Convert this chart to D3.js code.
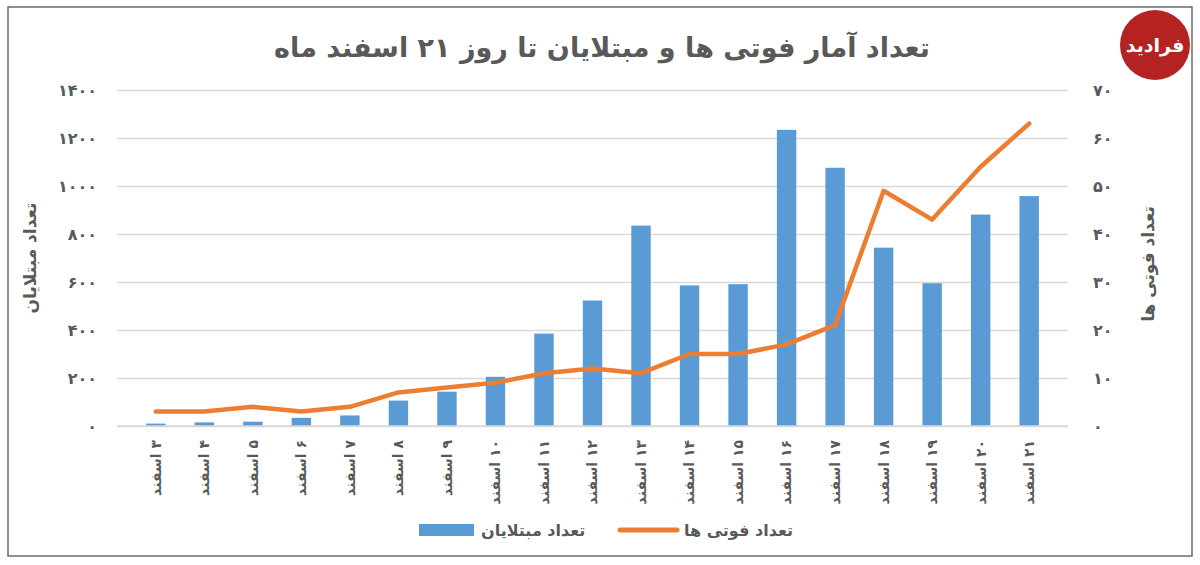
<!DOCTYPE html>
<html>
<head>
<meta charset="utf-8">
<script src="https://cdn.jsdelivr.net/npm/d3@7"></script>
<style>
  html, body { margin: 0; padding: 0; background: #fff; }
  svg { display: block; font-family: "DejaVu Sans", sans-serif; }
</style>
</head>
<body>
<div id="chart"></div>
<script>
// daily cases (bars, left axis) and deaths (line, right axis), 3..21 Esfand
const days = d3.range(3, 22);
const cases = [10, 15, 18, 34, 44, 106, 143, 205, 385, 523, 835, 586, 591, 1234, 1076, 743, 595, 881, 958];
const deaths = [3, 3, 4, 3, 4, 7, 8, 9, 11, 12, 11, 15, 15, 17, 21, 49, 43, 54, 63];
const leftTicks = [0, 200, 400, 600, 800, 1000, 1200, 1400];
const rightTicks = [0, 10, 20, 30, 40, 50, 60, 70];

const title = "تعداد آمار فوتی ها و مبتلایان تا روز ۲۱ اسفند ماه";
const casesLabel = "تعداد مبتلایان";
const deathsLabel = "تعداد فوتی ها";

const fa = n => String(n).replace(/\d/g, d => "۰۱۲۳۴۵۶۷۸۹"[d]);

const width = 1200, height = 565;
const margin = { top: 90, right: 132, bottom: 139, left: 117 };
const grey = "#595959", gridGrey = "#d9d9d9";
const blue = "#5b9bd5", orange = "#ed7d31";

const svg = d3.select("#chart").append("svg")
  .attr("width", width).attr("height", height)
  .attr("viewBox", `0 0 ${width} ${height}`);

// frame
svg.append("rect")
  .attr("x", 8).attr("y", 7).attr("width", 1184).attr("height", 549)
  .attr("fill", "none").attr("stroke", "#6b6b6b").attr("stroke-width", 1.5);

const x = d3.scaleBand().domain(days).range([margin.left, width - margin.right]).padding(0.6);
const yL = d3.scaleLinear().domain([0, 1400]).range([height - margin.bottom, margin.top]);
const yR = d3.scaleLinear().domain([0, 70]).range([height - margin.bottom, margin.top]);

// gridlines
svg.append("g")
  .attr("transform", `translate(${margin.left},0)`)
  .call(d3.axisLeft(yL).tickValues(leftTicks).tickSize(-(width - margin.left - margin.right)).tickFormat(""))
  .call(g => g.select(".domain").remove())
  .call(g => g.selectAll(".tick line").attr("stroke", gridGrey).attr("stroke-width", 1.5));

// bars
svg.append("g").selectAll("rect")
  .data(days)
  .join("rect")
    .attr("x", d => x(d))
    .attr("width", x.bandwidth())
    .attr("y", (d, i) => yL(cases[i]))
    .attr("height", (d, i) => yL(0) - yL(cases[i]))
    .attr("fill", blue);

// deaths line
const line = d3.line()
  .x((d, i) => x(days[i]) + x.bandwidth() / 2)
  .y(d => yR(d));
svg.append("path")
  .datum(deaths)
  .attr("d", line)
  .attr("fill", "none")
  .attr("stroke", orange)
  .attr("stroke-width", 4.5)
  .attr("stroke-linejoin", "round")
  .attr("stroke-linecap", "round");

// left axis labels
svg.append("g")
  .attr("transform", `translate(${margin.left},0)`)
  .call(d3.axisLeft(yL).tickValues(leftTicks).tickSize(0).tickPadding(20).tickFormat(fa))
  .call(g => g.select(".domain").remove())
  .call(g => g.selectAll("text")
    .attr("fill", grey).attr("font-size", 16).attr("font-weight", "bold")
    .attr("letter-spacing", 8).attr("font-family", "DejaVu Sans"));

// right axis labels
svg.append("g")
  .attr("transform", `translate(${width - margin.right},0)`)
  .call(d3.axisRight(yR).tickValues(rightTicks).tickSize(0).tickPadding(25).tickFormat(fa))
  .call(g => g.select(".domain").remove())
  .call(g => g.selectAll("text")
    .attr("fill", grey).attr("font-size", 16).attr("font-weight", "bold")
    .attr("letter-spacing", 6).attr("font-family", "DejaVu Sans"));

// x axis
svg.append("g")
  .attr("transform", `translate(0,${height - margin.bottom})`)
  .call(d3.axisBottom(x).tickSize(0).tickFormat(d => `${fa(d)} اسفند`))
  .call(g => g.select(".domain").attr("stroke", gridGrey).attr("stroke-width", 1.5)
    .attr("d", `M${margin.left},0H${width - margin.right}`))
  .call(g => g.selectAll("text")
    .attr("fill", grey).attr("font-size", 14).attr("font-weight", "bold")
    .attr("font-family", "DejaVu Sans")
    .attr("direction", "rtl")
    .attr("transform", "rotate(-90)")
    .attr("text-anchor", "start")
    .attr("dy", "0.35em").attr("x", -14).attr("y", 0));

// axis titles
svg.append("text")
  .attr("transform", `translate(30,${(margin.top + height - margin.bottom) / 2}) rotate(-90)`)
  .attr("text-anchor", "middle").attr("dy", "0.35em").attr("direction", "rtl")
  .attr("fill", grey).attr("font-size", 17).attr("font-weight", "bold")
  .text(casesLabel);
svg.append("text")
  .attr("transform", `translate(1148,${(margin.top + height - margin.bottom) / 2 + 6}) rotate(-90)`)
  .attr("text-anchor", "middle").attr("dy", "0.35em").attr("direction", "rtl")
  .attr("fill", grey).attr("font-size", 17).attr("font-weight", "bold")
  .text(deathsLabel);

// title
svg.append("text")
  .attr("x", 602).attr("y", 57)
  .attr("text-anchor", "middle").attr("direction", "rtl")
  .attr("fill", grey).attr("font-size", 27).attr("font-weight", "bold")
  .text(title);

// logo
const logo = svg.append("g").attr("transform", "translate(1155,45)");
logo.append("circle").attr("r", 35).attr("fill", "#b52222");
logo.append("text")
  .attr("text-anchor", "middle").attr("dy", "0.35em")
  .attr("fill", "#fff").attr("font-size", 19).attr("font-weight", "bold")
  .text("فرادید");

// legend
const legend = svg.append("g").attr("font-size", 16).attr("font-weight", "bold").attr("fill", grey);
legend.append("rect").attr("x", 419).attr("y", 524).attr("width", 55).attr("height", 12).attr("fill", blue);
legend.append("text").attr("x", 481).attr("y", 530).attr("dy", "0.35em").attr("text-anchor", "start").text(casesLabel);
legend.append("line").attr("x1", 620).attr("x2", 677).attr("y1", 530).attr("y2", 530)
  .attr("stroke", orange).attr("stroke-width", 5).attr("stroke-linecap", "round");
legend.append("text").attr("x", 684).attr("y", 530).attr("dy", "0.35em").attr("text-anchor", "start").text(deathsLabel);
</script>
</body>
</html>
